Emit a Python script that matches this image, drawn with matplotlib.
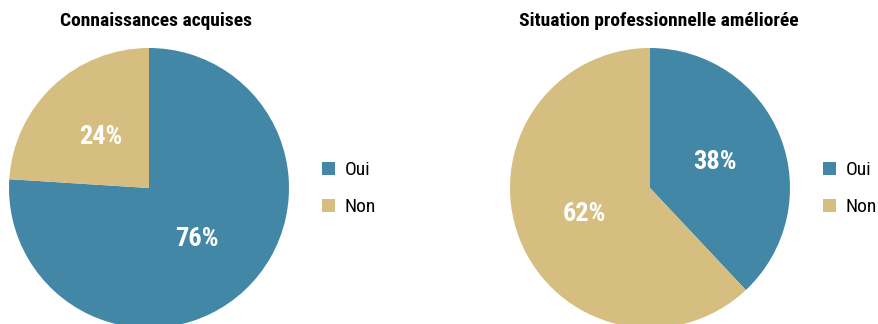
import matplotlib.pyplot as plt
from matplotlib.patches import Patch

# survey results, share of respondents (%)
categories = ['Oui', 'Non']
titles = ['Connaissances acquises', 'Situation professionnelle améliorée']
knowledge = [76, 24]
job_situation = [38, 62]

colors = ['#4288A6', '#D6BD80']

plt.rcParams['font.family'] = ['Roboto Condensed', 'DejaVu Sans']

W, H = 879, 324
fig = plt.figure(figsize=(W / 100, H / 100), dpi=100)


def px_axes(x0, y0, w, h):
    # axes placed from top-left pixel coordinates
    return fig.add_axes([x0 / W, 1 - (y0 + h) / H, w / W, h / H])


def draw_pie(ax, values):
    ax.pie(values, colors=colors, startangle=90, counterclock=False,
           autopct='%d%%', pctdistance=0.5, radius=1,
           wedgeprops=dict(linewidth=0),
           textprops=dict(color='white', fontsize=19, fontweight='bold'))
    ax.set_xlim(-1, 1)
    ax.set_ylim(-1, 1)
    ax.set_aspect('equal')
    ax.axis('off')


r = 140
for cx, values, title, title_x, leg_x in [(149, knowledge, titles[0], 156, 322),
                                           (650, job_situation, titles[1], 659, 823)]:
    ax = px_axes(cx - r, 188 - r, 2 * r, 2 * r)
    draw_pie(ax, values)
    fig.text(title_x / W, 1 - 21 / H, title, ha='center', va='center',
             fontsize=14, fontweight='bold')
    handles = [Patch(facecolor=c, edgecolor='none', label=l) for c, l in zip(colors, categories)]
    fig.legend(handles=handles, loc='upper left',
               bbox_to_anchor=(leg_x / W, 1 - 161 / H),
               frameon=False, fontsize=14, handlelength=0.66, handleheight=0.66,
               handletextpad=0.5, labelspacing=1.0, borderpad=0, borderaxespad=0)

fig.savefig('out.png', dpi=100)
